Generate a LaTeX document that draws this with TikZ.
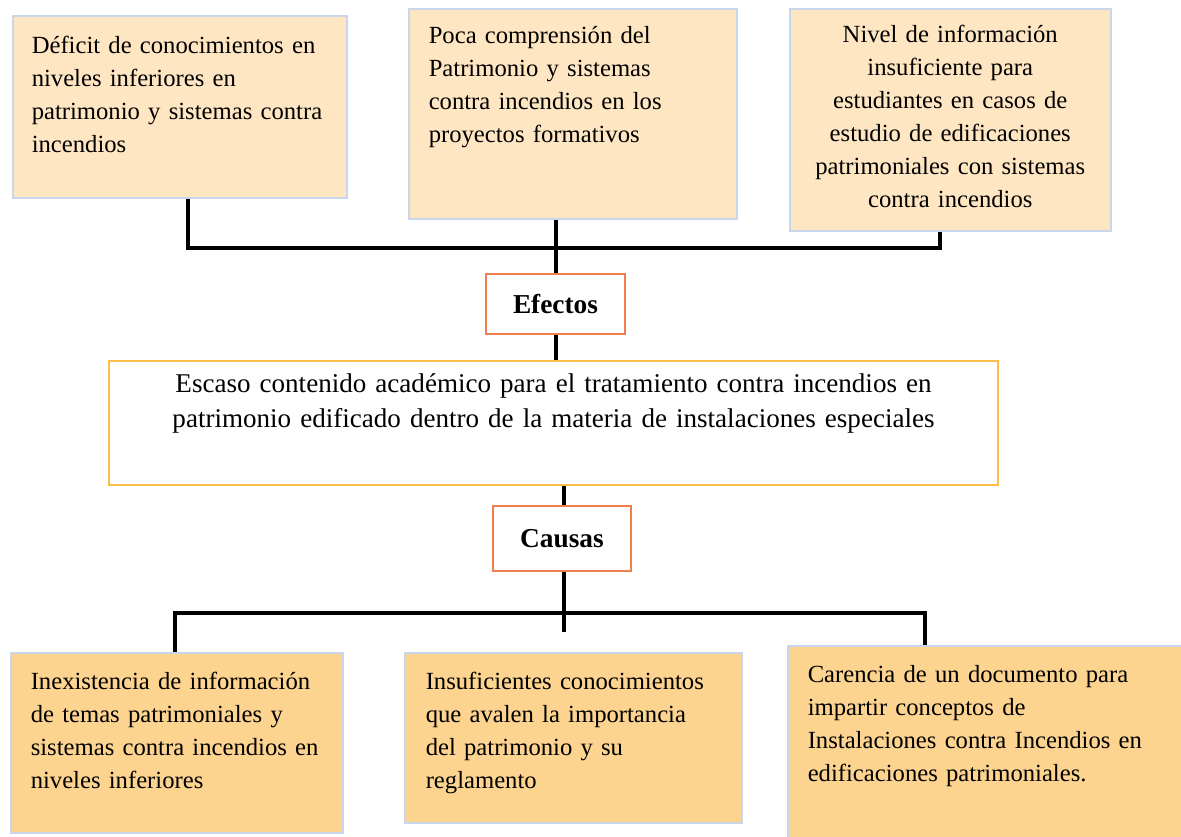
\documentclass[tikz,border=0pt]{standalone}
\usepackage{fontspec}
\setmainfont{Liberation Serif}
\definecolor{peach}{HTML}{FFE6C2}
\definecolor{sand}{HTML}{FDD48F}
\definecolor{frame}{HTML}{C9D5EA}
\definecolor{rust}{HTML}{F07E4E}
\definecolor{gold}{HTML}{FBBE48}
\newdimen\px \px=0.75pt
\hyphenpenalty=10000

\begin{document}
\begin{tikzpicture}[x=0.75pt,y=-0.75pt,% one unit = one pixel of the page
      every node/.style={
        font=\fontsize{18.5}{24.75}\selectfont, % body text of all boxes
        inner ysep=0pt   % height comes from text height / text depth
      },
      effect/.style={rectangle,draw=frame,fill=peach,line width=1.5\px,anchor=north west,align=left},
      cause/.style={rectangle,draw=frame,fill=sand,line width=1.5\px,anchor=north west,align=left},
      tagbox/.style={rectangle,draw=rust,fill=white,line width=2\px,anchor=north west,
        font=\fontsize{20.5}{24}\selectfont\bfseries},
      link/.style={draw=black,line width=3.5\px}
    ]
    \useasboundingbox (0,0) rectangle (1181,836);

    % efectos
    \node[effect,inner xsep=19\px,text width=296\px,text height=38\px,text depth=144\px](T1) at (12,15){
      D\'eficit de conocimientos en\\ niveles inferiores en\\
      patrimonio y sistemas contra\\ incendios};
    \node[effect,inner xsep=20\px,text width=288\px,text height=35\px,text depth=175\px](T2) at (408,8){
      Poca comprensi\'on del\\ Patrimonio y sistemas\\
      contra incendios en los\\ proyectos formativos};
    \node[effect,align=center,inner xsep=8\px,text width=305\px,text height=34\px,text depth=188\px](T3) at (789,8){
      Nivel de informaci\'on\\ insuficiente para\\ estudiantes en casos de\\
      estudio de edificaciones\\ patrimoniales con sistemas\\ contra incendios};

    \node[tagbox,minimum width=139\px,minimum height=60\px](Efectos) at (485,273){Efectos};

    % problema central
    \node[rectangle,draw=gold,line width=2\px,anchor=north west,align=center,
      font=\fontsize{20.3}{26.25}\selectfont,
      inner xsep=10\px,text width=869\px,text height=31\px,text depth=93\px](Escaso) at (108,360){
      Escaso contenido acad\'emico para el tratamiento contra incendios en\\
      patrimonio edificado dentro de la materia de instalaciones especiales};

    \node[tagbox,minimum width=138\px,minimum height=65\px](Causas) at (492,505){Causas};

    % causas
    \node[cause,inner xsep=20\px,text width=292\px,text height=37\px,text depth=143\px](B1) at (10,652){
      Inexistencia de informaci\'on\\ de temas patrimoniales y\\
      sistemas contra incendios en\\ niveles inferiores};
    \node[cause,inner xsep=21\px,text width=295\px,text height=37\px,text depth=133\px](B2) at (404,652){
      Insuficientes conocimientos\\ que avalen la importancia\\
      del patrimonio y su\\ reglamento};
    \node[cause,inner xsep=20\px,text width=362\px,text height=37\px,text depth=165\px](B3) at (787,645){
      Carencia de un documento para\\ impartir conceptos de\\
      Instalaciones contra Incendios en\\ edificaciones patrimoniales.};

    % connectors
    \coordinate (eL) at (188,248);
    \coordinate (eR) at (940,248);
    \coordinate (eM) at (556,248);
    \coordinate (cL) at (175,613);
    \coordinate (cR) at (925,613);
    \coordinate (cM) at (564,632);
    \draw[link] (T1.south -| eL) -- (eL) -- (eR) -- (T3.south -| eR);
    \draw[link] (T2.south -| eM) -- (Efectos.north -| eM);
    \draw[link] (Efectos.south -| eM) -- (Escaso.north -| eM);
    \draw[link] (Escaso.south -| cM) -- (Causas.north -| cM);
    \draw[link] (Causas.south -| cM) -- (cM);
    \draw[link] (B1.north -| cL) -- (cL) -- (cR) -- (B3.north -| cR);
  \end{tikzpicture}
\end{document}
